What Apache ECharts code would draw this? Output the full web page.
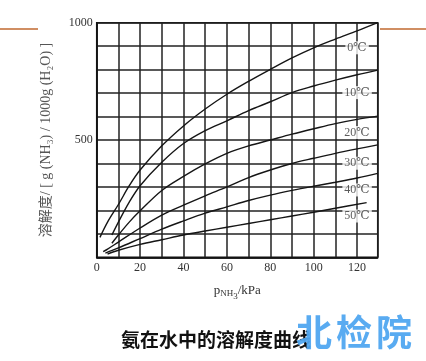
<!DOCTYPE html>
<html>
<head>
<meta charset="utf-8">
<script src="https://cdn.jsdelivr.net/npm/echarts@6/dist/echarts.min.js"></script>
<style>
html,body{margin:0;padding:0;background:#fff;}
#chart{width:426px;height:361px;}
</style>
</head>
<body>
<div id="chart"></div>
<script>
// ---- data ----
const temps = ['0℃', '10℃', '20℃', '30℃', '40℃', '50℃'];
const curve0 = [[1.5,85],[5,150],[10,225],[15,305],[20,372],[30,475],[40,560],[50,632],[60,695],[70,750],[80,801],[90,850],[100,893],[110,930],[120,965],[129.5,1000]];
const curve10 = [[7,95],[10,150],[15,235],[20,305],[30,405],[40,485],[50,540],[60,582],[70,625],[80,663],[90,702],[100,730],[110,755],[120,778],[129.5,798]];
const curve20 = [[7,60],[10,95],[15,150],[20,198],[30,285],[40,345],[50,398],[60,443],[70,475],[80,500],[90,525],[100,548],[110,570],[120,588],[129.5,602]];
const curve30 = [[3,24],[5,35],[10,65],[20,125],[30,180],[40,222],[50,262],[60,300],[70,340],[80,372],[90,400],[100,422],[110,443],[120,462],[129.5,479]];
const curve40 = [[4,18],[10,40],[20,80],[30,120],[40,155],[50,188],[60,215],[70,242],[80,265],[90,285],[100,303],[110,320],[120,338],[129.5,358]];
const curve50 = [[5,14],[10,30],[20,55],[30,75],[40,95],[50,112],[60,128],[70,144],[80,160],[90,176],[100,192],[110,209],[124.4,233]];
const labelX = [120, 120, 120, 120, 120, 120];
const labelY = [893, 702, 532, 401, 287, 176];
const xTickLabels = [0, 20, 40, 60, 80, 100, 120];
const yTickLabels = [500, 1000];
const titleText = '氨在水中的溶解度曲线';
const yName = '溶解度/ [ g (NH₃) / 1000g (H₂O) ]';
const watermark = ['北', '检', '院'];

const curves = [curve0, curve10, curve20, curve30, curve40, curve50];

const serif = '"Liberation Serif", "DejaVu Serif", "Noto Sans CJK SC", serif';
const chart = echarts.init(document.getElementById('chart'), null, {renderer: 'canvas'});

const lineSeries = curves.map((c, i) => ({
  name: temps[i],
  type: 'line',
  data: c,
  smooth: 0.35,
  showSymbol: false,
  symbol: 'none',
  lineStyle: {color: '#151515', width: 1.4},
  z: 3,
  silent: true
}));

const labelSeries = {
  type: 'scatter',
  data: labelX.map((x, i) => [x, labelY[i], temps[i]]),
  symbol: 'circle',
  symbolSize: 0.1,
  itemStyle: {color: 'rgba(0,0,0,0)'},
  z: 5,
  silent: true,
  label: {
    show: true,
    position: 'inside',
    formatter: p => p.data[2],
    fontFamily: serif,
    fontSize: 12,
    color: '#333',
    backgroundColor: '#fff',
    padding: [1, 2, 0, 2]
  }
};

chart.setOption({
  animation: false,
  backgroundColor: '#fff',
  grid: {left: 96.7, right: 48.3, top: 22.7, bottom: 103.7, show: true, borderColor: '#111', borderWidth: 1.5, backgroundColor: 'transparent'},
  xAxis: {
    type: 'value', min: 0, max: 129.5, interval: 10,
    axisLine: {show: true, lineStyle: {color: '#111', width: 1.5}},
    axisTick: {show: false},
    splitLine: {show: true, lineStyle: {color: '#222', width: 1.5}},
    axisLabel: {
      margin: 5, fontFamily: serif, fontSize: 12, color: '#333',
      showMaxLabel: false,
      formatter: v => xTickLabels.indexOf(v) >= 0 ? String(v) : ''
    },
    name: '{p|p}{sub|NH}{sub2|3}{p|/kPa}',
    nameLocation: 'middle',
    nameGap: 23,
    nameTextStyle: {
      rich: {
        p: {fontFamily: serif, fontSize: 13, color: '#333'},
        sub: {fontFamily: serif, fontSize: 9, color: '#333', padding: [6,0,0,0]},
        sub2: {fontFamily: serif, fontSize: 9, color: '#333', padding: [12,0,0,0]}
      }
    }
  },
  yAxis: {
    type: 'value', min: 0, max: 1000, interval: 100,
    axisLine: {show: true, lineStyle: {color: '#111', width: 1.5}},
    axisTick: {show: false},
    splitLine: {show: true, lineStyle: {color: '#222', width: 1.5}},
    axisLabel: {
      margin: 4, fontFamily: serif, fontSize: 12, color: '#333',
      formatter: v => yTickLabels.indexOf(v) >= 0 ? String(v) : ''
    },
    name: yName,
    nameLocation: 'middle',
    nameRotate: 90,
    nameGap: 43,
    nameTextStyle: {fontFamily: serif, fontSize: 14, color: '#555'}
  },
  title: {
    text: titleText,
    left: 121, top: 330,
    padding: 0,
    textStyle: {fontFamily: '"Noto Sans CJK SC", sans-serif', fontSize: 19, fontWeight: 'bold', color: '#111'}
  },
  graphic: [
    {type: 'line', shape: {x1: 0, y1: 29, x2: 38, y2: 29}, style: {stroke: '#C0692F', lineWidth: 1.5}, z: 10},
    {type: 'line', shape: {x1: 380, y1: 29, x2: 426, y2: 29}, style: {stroke: '#C0692F', lineWidth: 1.5}, z: 10},
    ...watermark.map((ch, i) => ({
      type: 'text', left: 296 + i * 40, top: 314, z: 100,
      style: {text: ch, font: 'bold 36px "Noto Sans CJK SC", sans-serif', fill: 'rgba(80,166,240,0.95)'}
    }))
  ],
  series: [...lineSeries, labelSeries]
});
</script>
</body>
</html>
